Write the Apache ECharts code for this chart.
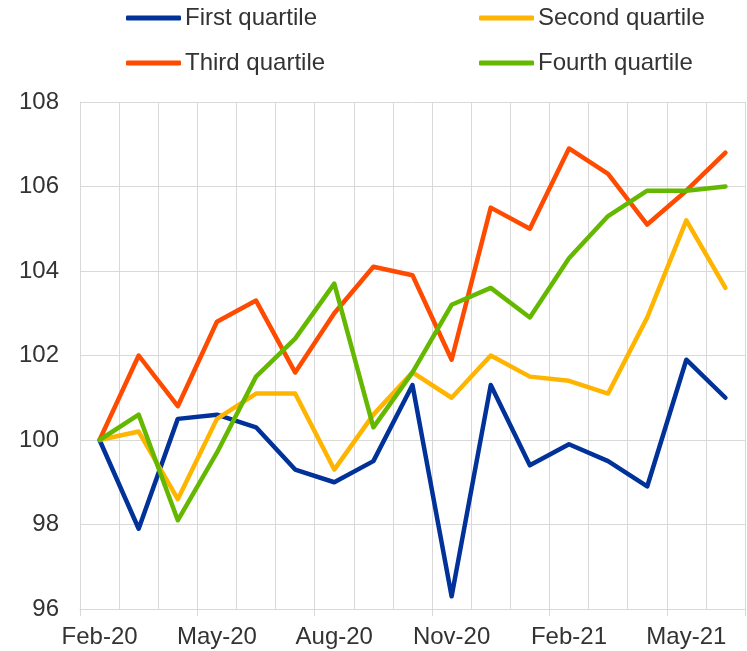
<!DOCTYPE html>
<html><head><meta charset="utf-8">
<script src="https://cdn.jsdelivr.net/npm/echarts@6/dist/echarts.min.js"></script>
<style>html,body{margin:0;padding:0;background:#fff}#c{width:747px;height:651px}</style>
</head><body><div id="c"></div>
<script>
const categories = ['Feb-20','Mar-20','Apr-20','May-20','Jun-20','Jul-20','Aug-20','Sep-20','Oct-20','Nov-20','Dec-20','Jan-21','Feb-21','Mar-21','Apr-21','May-21','Jun-21'];
const firstQuartile  = [100, 97.9, 100.5, 100.6, 100.3, 99.3, 99.0, 99.5, 101.3, 96.3, 101.3, 99.4, 99.9, 99.5, 98.9, 101.9, 101.0];
const secondQuartile = [100, 100.2, 98.6, 100.5, 101.1, 101.1, 99.3, 100.6, 101.6, 101.0, 102.0, 101.5, 101.4, 101.1, 102.9, 105.2, 103.6];
const thirdQuartile  = [100, 102.0, 100.8, 102.8, 103.3, 101.6, 103.0, 104.1, 103.9, 101.9, 105.5, 105.0, 106.9, 106.3, 105.1, 105.9, 106.8];
const fourthQuartile = [100, 100.6, 98.1, 99.7, 101.5, 102.4, 103.7, 100.3, 101.6, 103.2, 103.6, 102.9, 104.3, 105.3, 105.9, 105.9, 106.0];
const seriesNames = ['First quartile','Second quartile','Third quartile','Fourth quartile'];
const colors = ['#003299','#FFB400','#FF4B00','#65B800'];
const yTicks = {min: 96, max: 108, interval: 2};

const font = 'Liberation Sans, Arial, sans-serif';
const gridColor = '#d9d9d9';
const textColor = '#333';
const legendPos = [[126, 6], [479, 6], [126, 51], [479, 51]];
const chart = echarts.init(document.getElementById('c'));
const allData = [firstQuartile, secondQuartile, thirdQuartile, fourthQuartile];
chart.setOption({
  animation: false,
  color: colors,
  legend: seriesNames.map((n, i) => ({
    data: [n], left: legendPos[i][0], top: legendPos[i][1], padding: 0,
    itemWidth: 55, itemHeight: 5, itemGap: 4,
    icon: 'roundRect',
    textStyle: {fontFamily: font, fontSize: 24, color: textColor, padding: [0,0,0,-1]}
  })),
  grid: {left: 80, right: 2, top: 102, bottom: 42, containLabel: false},
  xAxis: {
    type: 'category', data: categories, boundaryGap: true,
    axisLine: {lineStyle: {color: gridColor, width: 1}},
    axisTick: {show: true, interval: 2, length: 7, lineStyle: {color: gridColor}},
    axisLabel: {interval: 2, margin: 16, fontFamily: font, fontSize: 24, color: textColor},
    splitLine: {show: true, interval: 0, lineStyle: {color: gridColor, width: 1}}
  },
  yAxis: {
    type: 'value', min: yTicks.min, max: yTicks.max, interval: yTicks.interval,
    axisLine: {show: true, lineStyle: {color: gridColor}},
    axisTick: {show: false},
    axisLabel: {margin: 21, fontFamily: font, fontSize: 24, color: textColor},
    splitLine: {show: true, lineStyle: {color: gridColor, width: 1}}
  },
  series: seriesNames.map((n, i) => ({
    name: n, type: 'line', data: allData[i], symbol: 'none',
    lineStyle: {width: 4.5, color: colors[i], cap: 'round', join: 'round'},
    itemStyle: {color: colors[i]}
  }))
});
</script></body></html>
